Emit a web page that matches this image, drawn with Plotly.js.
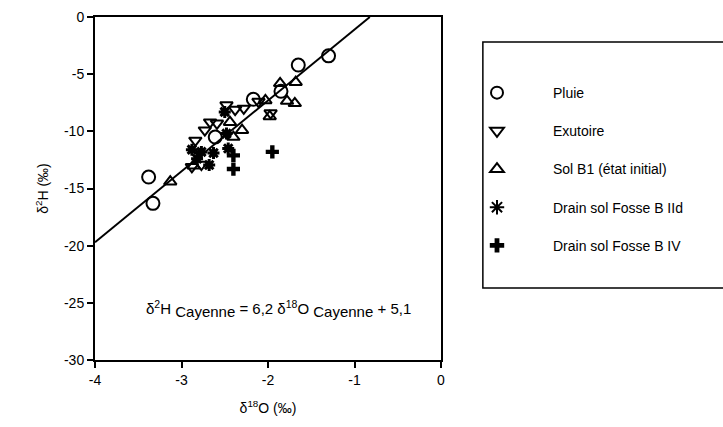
<!DOCTYPE html>
<html>
<head>
<meta charset="utf-8">
<script src="https://cdn.plot.ly/plotly-3.0.1.min.js"></script>
<style>html,body{margin:0;padding:0;background:#fff;}#chart{width:723px;height:427px;}</style>
</head>
<body>
<div id="chart"></div>
<script>
// Pluie
const pluieX = [-1.30, -1.65, -1.85, -2.17, -2.61, -3.38, -3.33];
const pluieY = [-3.4, -4.2, -6.5, -7.2, -10.5, -14.0, -16.3];
// Exutoire
const exuX = [-2.84, -2.67, -2.59, -2.48, -2.38, -2.28, -2.11, -2.77, -2.88, -2.73, -1.97];
const exuY = [-10.8, -9.2, -9.3, -7.7, -8.1, -8.0, -7.4, -12.9, -13.1, -9.9, -8.4];
// Sol B1 (état initial)
const solX = [-3.13, -2.30, -2.40, -1.86, -1.68, -1.78, -1.69, -1.98, -2.03, -2.86, -2.44];
const solY = [-14.4, -9.9, -10.5, -5.8, -5.7, -7.35, -7.55, -8.7, -7.3, -13.0, -9.2];
// Drain sol Fosse B IId
const iidX = [-2.88, -2.77, -2.63, -2.68, -2.46, -2.48, -2.50, -2.82];
const iidY = [-11.6, -11.8, -11.9, -12.95, -11.5, -10.2, -8.3, -12.4];
// Drain sol Fosse B IV
const ivX = [-2.40, -2.40, -1.95];
const ivY = [-12.1, -13.3, -11.8];
// Droite Cayenne : d2H = 6,2 d18O + 5,1
const slope = 6.2, intercept = 5.1;
const lineX = [-4, -0.823];
const lineY = lineX.map(v => slope * v + intercept);

const xTicks = [-4, -3, -2, -1, 0];
const yTicks = [0, -5, -10, -15, -20, -25, -30];

const font = {family: 'Liberation Sans, Arial, sans-serif', color: '#000'};

const traces = [
  {x: lineX, y: lineY, mode: 'lines', line: {color: '#000', width: 2}, showlegend: false, hoverinfo: 'skip'},
  {x: pluieX, y: pluieY, mode: 'markers', name: 'Pluie', legendgroup: 'a',
   marker: {symbol: 'circle-open', size: 13, color: '#000', line: {width: 2, color: '#000'}}},
  {x: exuX, y: exuY, mode: 'markers', name: 'Exutoire', legendgroup: 'b',
   marker: {symbol: 'triangle-down-open', size: 11, color: '#000', line: {width: 2, color: '#000'}}},
  {x: solX, y: solY, mode: 'markers', name: 'Sol B1 (état initial)', legendgroup: 'c',
   marker: {symbol: 'triangle-up-open', size: 11, color: '#000', line: {width: 2, color: '#000'}}},
  {x: iidX, y: iidY, mode: 'markers', name: 'Drain sol Fosse B IId', legendgroup: 'd',
   marker: {symbol: 'asterisk-open', size: 10, color: '#000', line: {width: 3, color: '#000'}}},
  {x: ivX, y: ivY, mode: 'markers', name: 'Drain sol Fosse B IV', legendgroup: 'e',
   marker: {symbol: 'cross', size: 11, color: '#000', line: {width: 0}}}
];

const sub = t => '<sub><span style="font-size:15px">' + t + '</span></sub>';

const layout = {
  width: 723, height: 427,
  margin: {l: 95, r: 282, t: 17, b: 67},
  paper_bgcolor: '#fff', plot_bgcolor: '#fff',
  font: Object.assign({size: 14}, font),
  showlegend: true,
  legend: {
    x: 1.0, xanchor: 'left', y: 0.825, yanchor: 'top',
    bgcolor: 'rgba(0,0,0,0)', borderwidth: 0,
    font: Object.assign({size: 14}, font),
    tracegroupgap: 17, itemwidth: 102, itemsizing: 'constant'
  },
  xaxis: {
    range: [-4, 0], tickvals: xTicks, ticktext: xTicks.map(String),
    showgrid: false, zeroline: false, showline: true, linewidth: 2, linecolor: '#000', mirror: true,
    ticks: 'outside', ticklen: 6, tickwidth: 2, tickcolor: '#000',
    tickfont: Object.assign({size: 14}, font),
    title: {text: 'δ<sup>18</sup>O (‰)', font: Object.assign({size: 14}, font), standoff: 16}
  },
  yaxis: {
    range: [-30, 0], tickvals: yTicks, ticktext: yTicks.map(String),
    showgrid: false, zeroline: false, showline: true, linewidth: 2, linecolor: '#000', mirror: true,
    ticks: 'outside', ticklen: 6, tickwidth: 2, tickcolor: '#000',
    tickfont: Object.assign({size: 14}, font),
    title: {text: 'δ<sup>2</sup>H (‰)', font: Object.assign({size: 14}, font), standoff: 12}
  },
  shapes: [
    {type: 'rect', xref: 'paper', yref: 'paper', x0: 1.121, x1: 1.83, y0: 0.210, y1: 0.927,
     line: {color: '#000', width: 1.5}, fillcolor: 'rgba(0,0,0,0)'}
  ],
  annotations: [
    {x: -1.88, y: -25.5, xref: 'x', yref: 'y', showarrow: false,
     text: 'δ<sup>2</sup>H ' + sub('Cayenne') + ' = 6,2 δ<sup>18</sup>O ' + sub('Cayenne') + ' + 5,1',
     font: Object.assign({size: 15}, font)}
  ]
};

Plotly.newPlot('chart', traces, layout, {displayModeBar: false, staticPlot: true});
</script>
</body>
</html>
